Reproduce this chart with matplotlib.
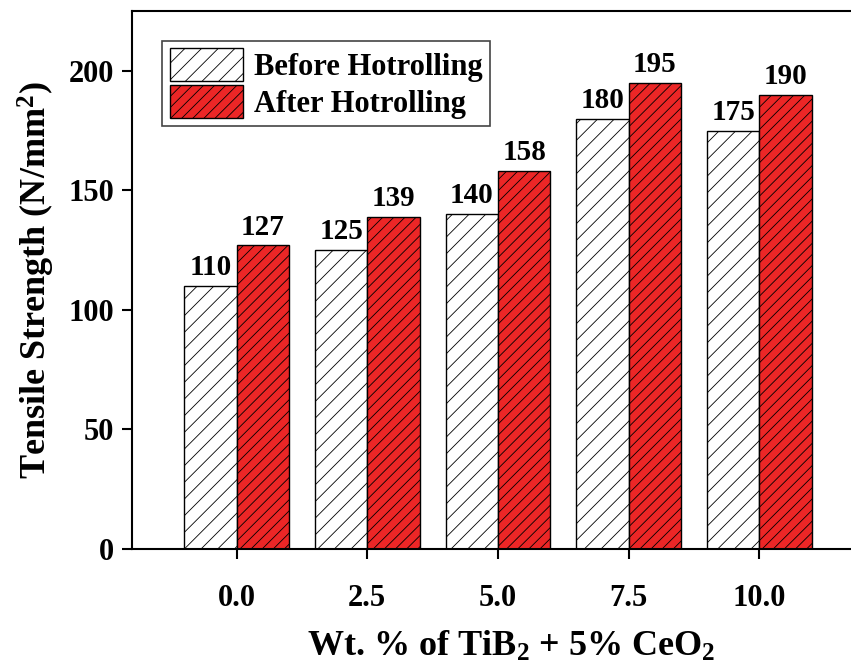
import matplotlib.pyplot as plt
import matplotlib as mpl
import numpy as np

mpl.rcParams.update({
    "font.family": ["Liberation Serif", "DejaVu Serif"],
    "font.weight": "bold",
    "mathtext.fontset": "custom",
    "mathtext.rm": "Liberation Serif:bold",
    "mathtext.it": "Liberation Serif:bold",
    "mathtext.bf": "Liberation Serif:bold",
    "hatch.linewidth": 0.6,
})

wt_pct = [0.0, 2.5, 5.0, 7.5, 10.0]
tick_labels = ["0.0", "2.5", "5.0", "7.5", "10.0"]
before = [110, 125, 140, 180, 175]
after = [127, 139, 158, 195, 190]

RED = "#ec2626"

fig = plt.figure(figsize=(8.51, 6.65), dpi=100)
ax = fig.add_axes([132 / 851, 116 / 665, 758 / 851, 538 / 665])

x = np.array(wt_pct)
w = 1.0
b1 = ax.bar(x - w / 2, before, w, color="white", edgecolor="black",
            hatch="//", lw=1.0, label="Before Hotrolling")
b2 = ax.bar(x + w / 2, after, w, color=RED, edgecolor="black",
            hatch="///", lw=1.0, label="After Hotrolling")

# value labels on top of each bar
for rects, vals in ((b1, before), (b2, after)):
    for r, v in zip(rects, vals):
        ax.text(r.get_x() + r.get_width() / 2, v + 2, f"{v}",
                ha="center", va="bottom", fontsize=21, fontweight="bold")

ax.set_xlim(-2, 12.5)
ax.set_ylim(0, 225)
ax.set_xticks(x)
ax.set_xticklabels(tick_labels)
ax.set_yticks([0, 50, 100, 150, 200])

for s in ax.spines.values():
    s.set_linewidth(1.5)
ax.tick_params(axis="both", direction="out", length=7, width=1.5,
               labelsize=22)
ax.tick_params(axis="x", pad=18)
ax.tick_params(axis="y", pad=6)
ax.tick_params(top=False, right=False)

ax.set_ylabel("Tensile Strength (N/mm$^2$)", fontsize=26, fontweight="bold",
              labelpad=8)
ax.set_xlabel("Wt. % of TiB$_2$ + 5% CeO$_2$", fontsize=26, fontweight="bold",
              labelpad=12)

leg = ax.legend(loc="upper left", bbox_to_anchor=(0.04, 0.945), fontsize=22,
                fancybox=False, edgecolor="#444444", framealpha=1,
                handlelength=2.4, handleheight=1.25, labelspacing=0.12,
                borderpad=0.25, handletextpad=0.35, borderaxespad=0)
leg.get_frame().set_linewidth(1.2)

fig.savefig("out.png", dpi=100)
